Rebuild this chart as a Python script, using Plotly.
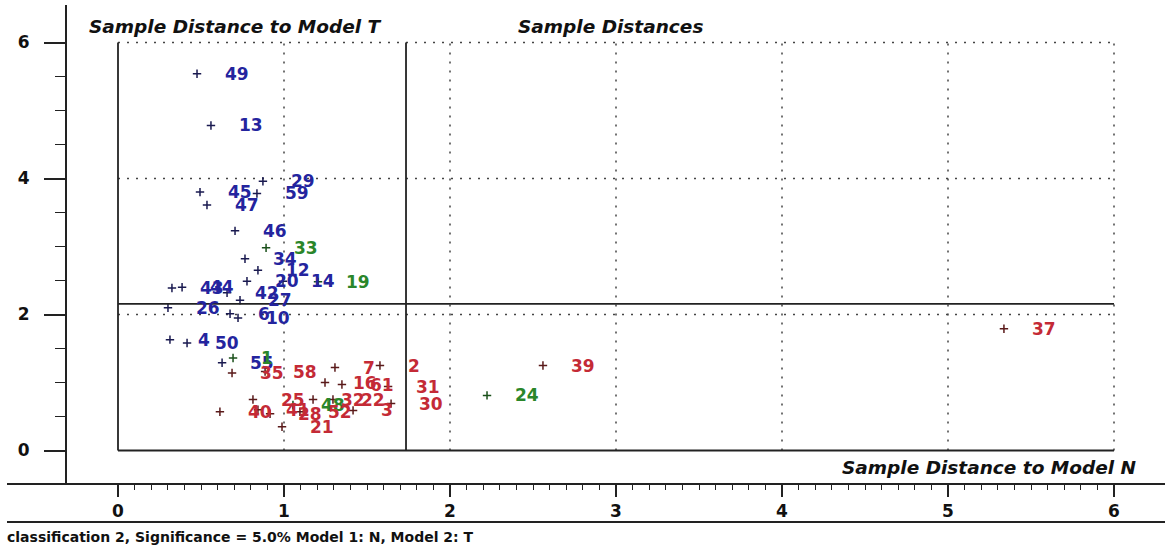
import plotly.graph_objects as go

# ---- data ----
blue_labels = ["49", "13", "29", "59", "45", "47", "46", "34", "12", "20", "14",
               "43", "44", "42", "27", "26", "6", "10", "4", "50", "55"]
blue_x = [0.476, 0.560, 0.873, 0.837, 0.494, 0.536, 0.705, 0.765, 0.843, 0.777, 0.994,
          0.325, 0.386, 0.657, 0.735, 0.301, 0.675, 0.723, 0.313, 0.416, 0.627]
blue_y = [5.54, 4.78, 3.96, 3.78, 3.80, 3.61, 3.23, 2.82, 2.65, 2.49, 2.49,
          2.39, 2.40, 2.32, 2.21, 2.10, 2.01, 1.95, 1.63, 1.58, 1.29]

green_labels = ["33", "19", "24", "1", "48"]
green_x = [0.892, 1.205, 2.223, 0.693, 1.054]
green_y = [2.98, 2.48, 0.81, 1.36, 0.67]

red_labels = ["58", "35", "7", "2", "16", "61", "31", "30", "39", "37", "40",
              "25", "41", "28", "21", "52", "32", "22", "3"]
red_x = [0.886, 0.687, 1.307, 1.578, 1.247, 1.349, 1.627, 1.645, 2.560, 5.337, 0.614,
         0.813, 0.843, 0.916, 0.988, 1.096, 1.175, 1.295, 1.416]
red_y = [1.16, 1.14, 1.22, 1.25, 1.00, 0.97, 0.94, 0.69, 1.25, 1.79, 0.57,
         0.75, 0.60, 0.54, 0.35, 0.57, 0.75, 0.75, 0.59]

x_split = 1.735   # critical distance to model N
y_split = 2.155   # critical distance to model T
x_ticks = [0, 1, 2, 3, 4, 5, 6]
y_ticks = [0, 2, 4, 6]

title_left = "Sample Distance to Model T"
title_mid = "Sample Distances"
title_x = "Sample Distance to Model N"
caption = "classification 2, Significance = 5.0% Model 1: N, Model 2: T"

# ---- geometry ----
W, H = 1165, 550
PX_X = 166.0
PX_Y = 68.0
X0_PX = 118.0
Y0_PX = 450.5
x_dom_left = 7 / W
y_dom = [1 - 483 / H, 1 - 5 / H]
x_range = [(7 - X0_PX) / PX_X, (W - X0_PX) / PX_X]
y_range = [(Y0_PX - 483) / PX_Y, (Y0_PX - 5) / PX_Y]

groups = [
    (blue_labels, blue_x, blue_y, "#24249e", "#1a1a50"),
    (green_labels, green_x, green_y, "#2a862a", "#1a501a"),
    (red_labels, red_x, red_y, "#c42a36", "#5a1a1a"),
]

fig = go.Figure()
annotations = []
for labels, xs, ys, col, mcol in groups:
    fig.add_trace(go.Scatter(
        x=xs, y=ys, mode="markers",
        marker=dict(symbol="cross-thin", size=6, line=dict(width=1.5, color=mcol)),
        hoverinfo="skip", showlegend=False))
    for lab, xv, yv in zip(labels, xs, ys):
        annotations.append(dict(
            x=xv, y=yv, xref="x", yref="y", text=lab, showarrow=False,
            xanchor="left", yanchor="middle", xshift=26,
            font=dict(family="DejaVu Sans", size=17, color=col, weight="bold")))

line_col = "#222222"
dot_style = dict(color="#444444", width=1.5, dash="2px,7px")
shapes = []
# dotted grid
for xv in x_ticks[1:]:
    shapes.append(dict(type="line", xref="x", yref="y", x0=xv, x1=xv, y0=0, y1=6,
                       line=dot_style, layer="below"))
for yv in y_ticks[1:]:
    shapes.append(dict(type="line", xref="x", yref="y", x0=0, x1=6, y0=yv, y1=yv,
                       line=dot_style, layer="below"))
# solid frame and split lines
solid = dict(color=line_col, width=1.8)
shapes += [
    dict(type="line", xref="x", yref="y", x0=0, x1=0, y0=0, y1=6, line=solid),
    dict(type="line", xref="x", yref="y", x0=0, x1=6, y0=0, y1=0, line=solid),
    dict(type="line", xref="x", yref="y", x0=x_split, x1=x_split, y0=0, y1=6, line=solid),
    dict(type="line", xref="x", yref="y", x0=0, x1=6, y0=y_split, y1=y_split, line=solid),
    dict(type="line", xref="paper", yref="paper", x0=x_dom_left, x1=1,
         y0=1 - 522 / H, y1=1 - 522 / H, line=dict(color=line_col, width=1.8)),
]

title_font = dict(family="DejaVu Sans", size=18.5, color="#111111", weight="bold", style="italic")
annotations += [
    dict(x=87 / W, y=1 - 27 / H, xref="paper", yref="paper", text=title_left,
         showarrow=False, xanchor="left", yanchor="middle", font=title_font),
    dict(x=516 / W, y=1 - 27 / H, xref="paper", yref="paper", text=title_mid,
         showarrow=False, xanchor="left", yanchor="middle", font=title_font),
    dict(x=1139 / W, y=1 - 467 / H, xref="paper", yref="paper", text=title_x,
         showarrow=False, xanchor="right", yanchor="middle", font=title_font),
    dict(x=5 / W, y=1 - 537 / H, xref="paper", yref="paper", text=caption,
         showarrow=False, xanchor="left", yanchor="middle",
         font=dict(family="DejaVu Sans", size=14, color="#111111", weight="bold")),
]

fig.update_layout(
    width=W, height=H,
    margin=dict(l=0, r=0, t=0, b=0),
    paper_bgcolor="white", plot_bgcolor="white",
    shapes=shapes, annotations=annotations,
    hovermode=False,
    xaxis=dict(
        domain=[x_dom_left, 1], range=x_range, anchor="y",
        showgrid=False, zeroline=False, showline=True, linecolor=line_col, linewidth=1.8,
        tickmode="array", tickvals=x_ticks, ticks="outside", ticklen=12, tickwidth=1.5,
        tickcolor=line_col,
        tickfont=dict(family="DejaVu Sans", size=17, color="#111111", weight="bold"),
        minor=dict(tickmode="array",
                   tickvals=[i / 10 for i in range(1, 60) if i % 10 != 0],
                   ticks="outside", ticklen=5, tickwidth=1, tickcolor=line_col, showgrid=False),
    ),
    yaxis=dict(
        domain=y_dom, range=y_range, anchor="free", position=66 / W,
        showgrid=False, zeroline=False, showline=True, linecolor=line_col, linewidth=1.8,
        tickmode="array", tickvals=y_ticks, ticks="outside", ticklen=21, tickwidth=1.5,
        tickcolor=line_col, ticklabelstandoff=11,
        tickfont=dict(family="DejaVu Sans", size=17, color="#111111", weight="bold"),
        minor=dict(tickmode="array",
                   tickvals=[i / 2 for i in range(1, 12) if i % 4 != 0],
                   ticks="outside", ticklen=10, tickwidth=1, tickcolor=line_col, showgrid=False),
    ),
)

fig.write_html("out.html")
